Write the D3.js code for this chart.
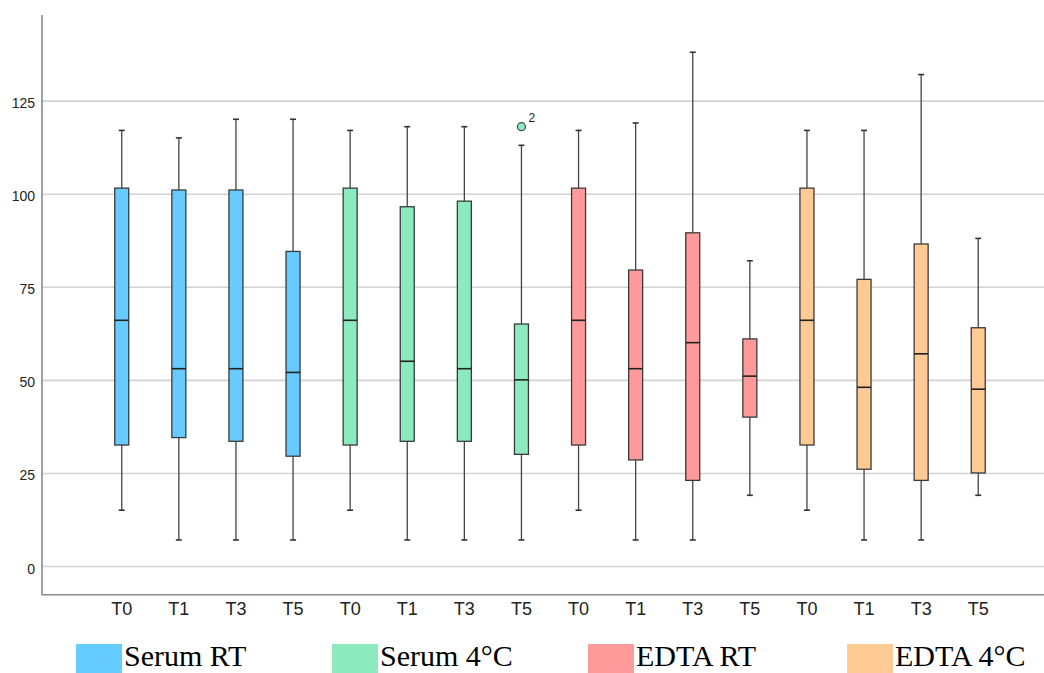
<!DOCTYPE html>
<html>
<head>
<meta charset="utf-8">
<script src="https://cdn.jsdelivr.net/npm/d3@7"></script>
<style>
    body { margin: 0; background: #fff; }
    svg { display: block; }
    .tick text { fill: #222; font-family: "Liberation Sans", Arial, sans-serif; }
</style>
</head>
<body>
<main></main>
<script>
const groups = ["Serum RT", "Serum 4°C", "EDTA RT", "EDTA 4°C"];
const times = ["T0", "T1", "T3", "T5"];
const colors = ["#66ccff", "#8cebbe", "#ff9a9a", "#ffca94"];
const yTicks = [0, 25, 50, 75, 100, 125];

// each entry: [lower whisker, Q1, median, Q3, upper whisker]
const serumRT = [[15, 32.5, 66, 101.5, 117], [7, 34.5, 53, 101, 115], [7, 33.5, 53, 101, 120], [7, 29.5, 52, 84.5, 120]];
const serum4C = [[15, 32.5, 66, 101.5, 117], [7, 33.5, 55, 96.5, 118], [7, 33.5, 53, 98, 118], [7, 30, 50, 65, 113]];
const edtaRT = [[15, 32.5, 66, 101.5, 117], [7, 28.5, 53, 79.5, 119], [7, 23, 60, 89.5, 138], [19, 40, 51, 61, 82]];
const edta4C = [[15, 32.5, 66, 101.5, 117], [7, 26, 48, 77, 117], [7, 23, 57, 86.5, 132], [19, 25, 47.5, 64, 88]];

// outliers: group index, time index, value, case label
const outliers = [{g: 1, t: 3, value: 118, label: "2"}];

const svgSize = {
    width: 1044,
    height: 673
};

const plot = {
    left: 42,
    right: 1044,
    top: 15,
    bottom: 594.7
};

const createCanvas = () => {
    return d3.select("main")
            .append("svg")
            .attr("width", svgSize.width)
            .attr("height", svgSize.height);
};

const buildBoxes = () => {
    const all = [serumRT, serum4C, edtaRT, edta4C];
    const boxes = [];
    all.forEach((series, g) => {
        series.forEach((s, t) => {
            boxes.push({key: g + "-" + times[t], g: g, time: times[t],
                lo: s[0], q1: s[1], med: s[2], q3: s[3], hi: s[4]});
        });
    });
    return boxes;
};

const defineScales = (boxes) => {
    const xScale = d3.scaleBand()
                    .domain(boxes.map(d => d.key))
                    .range([93.2, 1006.8])
                    .padding(0);

    const yScale = d3.scaleLinear()
                    .domain([-7.7, 148])
                    .range([plot.bottom, plot.top]);

    return {xScale, yScale};
};

const createGrid = (scales, svg) => {
    svg.append("g")
        .attr("transform", `translate(${plot.left},0)`)
        .call(d3.axisLeft(scales.yScale).tickValues(yTicks).tickSize(-(plot.right - plot.left)).tickFormat(""))
        .call(g => g.select(".domain").remove())
        .call(g => g.selectAll("line").attr("stroke", "#d2d2d2").attr("stroke-width", 1.6));
};

const createAxes = (scales, svg) => {
    svg.append("g")
        .attr("id", "y-axis")
        .attr("transform", `translate(${plot.left},0)`)
        .call(d3.axisLeft(scales.yScale).tickValues(yTicks).tickSize(0).tickPadding(7))
        .call(g => g.select(".domain").remove())
        .call(g => g.selectAll("text").attr("font-size", "14px").attr("dy", "0.5em"));

    svg.append("g")
        .attr("id", "x-axis")
        .attr("transform", `translate(0,${plot.bottom})`)
        .call(d3.axisBottom(scales.xScale).tickSize(0).tickPadding(7).tickFormat(k => k.split("-")[1]))
        .call(g => g.select(".domain").remove())
        .call(g => g.selectAll("text").attr("font-size", "18px").attr("dy", "0.75em"));

    svg.append("path")
        .attr("d", `M${plot.left},${plot.top}V${plot.bottom}H${plot.right}`)
        .attr("fill", "none")
        .attr("stroke", "#8a8a8a")
        .attr("stroke-width", 1.6);
};

const createBoxes = (boxes, scales, svg) => {
    const boxW = 14;
    const capW = 6;
    const y = scales.yScale;
    const cx = (d) => scales.xScale(d.key) + scales.xScale.bandwidth() / 2;

    const g = svg.selectAll(".box")
            .data(boxes)
            .enter()
            .append("g")
            .attr("class", "box");

    // whiskers
    g.append("line")
        .attr("x1", cx).attr("x2", cx)
        .attr("y1", d => y(d.hi)).attr("y2", d => y(d.q3))
        .attr("stroke", "#444").attr("stroke-width", 1.3);
    g.append("line")
        .attr("x1", cx).attr("x2", cx)
        .attr("y1", d => y(d.q1)).attr("y2", d => y(d.lo))
        .attr("stroke", "#444").attr("stroke-width", 1.3);
    g.append("line")
        .attr("x1", d => cx(d) - capW / 2).attr("x2", d => cx(d) + capW / 2)
        .attr("y1", d => y(d.hi)).attr("y2", d => y(d.hi))
        .attr("stroke", "#333").attr("stroke-width", 1.6);
    g.append("line")
        .attr("x1", d => cx(d) - capW / 2).attr("x2", d => cx(d) + capW / 2)
        .attr("y1", d => y(d.lo)).attr("y2", d => y(d.lo))
        .attr("stroke", "#333").attr("stroke-width", 1.6);

    g.append("rect")
        .attr("x", d => cx(d) - boxW / 2)
        .attr("y", d => y(d.q3))
        .attr("width", boxW)
        .attr("height", d => y(d.q1) - y(d.q3))
        .attr("fill", d => colors[d.g])
        .attr("stroke", "#3a3a3a")
        .attr("stroke-width", 1.3);

    g.append("line")
        .attr("x1", d => cx(d) - boxW / 2).attr("x2", d => cx(d) + boxW / 2)
        .attr("y1", d => y(d.med)).attr("y2", d => y(d.med))
        .attr("stroke", "#222").attr("stroke-width", 1.6);

    outliers.forEach(o => {
        const key = o.g + "-" + times[o.t];
        const x = scales.xScale(key) + scales.xScale.bandwidth() / 2;
        svg.append("circle")
            .attr("cx", x)
            .attr("cy", y(o.value))
            .attr("r", 4)
            .attr("fill", colors[o.g])
            .attr("stroke", "#444")
            .attr("stroke-width", 1.2);
        svg.append("text")
            .attr("x", x + 7)
            .attr("y", y(o.value) - 5)
            .attr("font-family", "Liberation Sans, Arial, sans-serif")
            .attr("font-size", "12px")
            .attr("fill", "#222")
            .text(o.label);
    });
};

const createLegend = (svg) => {
    const legendX = [76, 332, 588, 847];
    const item = svg.selectAll(".legend")
            .data(groups)
            .enter()
            .append("g")
            .attr("class", "legend")
            .attr("transform", (d, i) => `translate(${legendX[i]},644)`);

    item.append("rect")
        .attr("width", 46)
        .attr("height", 29)
        .attr("fill", (d, i) => colors[i]);

    item.append("text")
        .attr("x", 48)
        .attr("y", 22)
        .attr("font-family", "Liberation Serif, Times New Roman, serif")
        .attr("font-size", "30px")
        .attr("fill", "#000")
        .text(d => d);
};

const driver = () => {
    const svg = createCanvas();
    const boxes = buildBoxes();
    const scales = defineScales(boxes);
    createGrid(scales, svg);
    createAxes(scales, svg);
    createBoxes(boxes, scales, svg);
    createLegend(svg);
};

driver();
</script>
</body>
</html>
